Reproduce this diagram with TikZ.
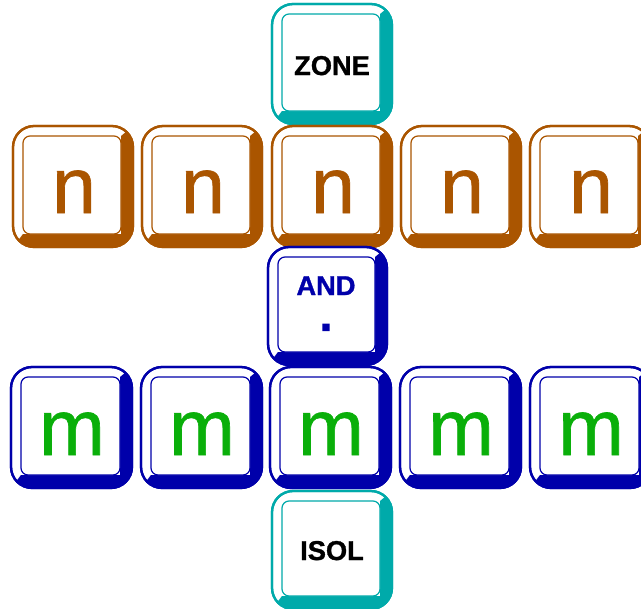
\documentclass[tikz,border=0pt]{standalone}
\usepackage{fontspec}
\setmainfont{Liberation Sans}
\newfontfamily\letterfont[FakeBold=0.8]{Liberation Sans}
\newfontfamily\labelfont[FakeBold=1.2]{Liberation Sans Bold}
\newfontfamily\dotfont[FakeBold=6]{Liberation Sans Bold}
\definecolor{keyteal}{RGB}{0,170,170}
\definecolor{keybrown}{RGB}{170,85,0}
\definecolor{keyblue}{RGB}{0,0,170}
\definecolor{keygreen}{RGB}{10,175,10}
\tikzset{
  keyshell/.style={line width=1.3pt, rounded corners=12},
  keyface/.style={line width=0.7pt, rounded corners=4, fill=white},
  bigletter/.style={anchor=base, inner sep=0pt, font=\fontsize{45}{45}\letterfont},
  keylabel/.style={anchor=base, inner sep=0pt, font=\fontsize{15.5}{15.5}\labelfont},
}
% key cap: x, y (top left), width, height, colour
\newcommand{\keycap}[5]{%
  \filldraw[keyshell, draw=#5, fill=white] (#1,#2) rectangle ++(#3,#4);%
  \begin{scope}
    \clip[rounded corners=12] (#1,#2) rectangle ++(#3,#4);
    \fill[#5] ({#1+#3},#2) -- ({#1+#3-12},{#2+10}) -- ({#1+#3-12},{#2+#4-13})
      -- ({#1+10},{#2+#4-13}) -- (#1,{#2+#4}) -- ({#1+#3},{#2+#4}) -- cycle;%
  \end{scope}
  \draw[keyshell, draw=#5] (#1,#2) rectangle ++(#3,#4);%
  \draw[keyface, draw=#5] ({#1+10},{#2+10}) rectangle ({#1+#3-12},{#2+#4-13});%
}
\begin{document}
\begin{tikzpicture}[x=0.02cm, y=-0.02cm]
                \useasboundingbox (0,0) rectangle (641,608);
                \clip (0,0) rectangle (641,608);

                % Drawing key ZONE
                \keycap{272}{4}{120}{120}{keyteal}
                \node[keylabel] (zone) at (332,75) {ZONE};

                % Drawing row of keys n
                \keycap{13}{126}{120}{121}{keybrown}
                \node[bigletter, text=keybrown] (n1) at (74,213) {n};
                \keycap{142}{126}{120}{121}{keybrown}
                \node[bigletter, text=keybrown] (n2) at (203,213) {n};
                \keycap{272}{126}{120}{121}{keybrown}
                \node[bigletter, text=keybrown] (n3) at (333,213) {n};
                \keycap{401}{126}{120}{121}{keybrown}
                \node[bigletter, text=keybrown] (n4) at (462,213) {n};
                \keycap{530}{126}{120}{121}{keybrown}
                \node[bigletter, text=keybrown] (n5) at (591,213) {n};

                % Drawing key AND with its dot
                \keycap{268}{247}{119}{118}{keyblue}
                \node[keylabel, text=keyblue] (and) at (326,295) {AND};
                \node[keylabel, text=keyblue, font=\fontsize{20}{20}\dotfont] (dot) at (326,330) {.};

                % Drawing row of keys m
                \keycap{11}{367}{121}{121}{keyblue}
                \node[bigletter, text=keygreen] (m1) at (72,455) {m};
                \keycap{141}{367}{121}{121}{keyblue}
                \node[bigletter, text=keygreen] (m2) at (202,455) {m};
                \keycap{270}{367}{121}{121}{keyblue}
                \node[bigletter, text=keygreen] (m3) at (331,455) {m};
                \keycap{400}{367}{121}{121}{keyblue}
                \node[bigletter, text=keygreen] (m4) at (461,455) {m};
                \keycap{530}{367}{121}{121}{keyblue}
                \node[bigletter, text=keygreen] (m5) at (591,455) {m};

                % Drawing key ISOL
                \keycap{272}{491}{120}{118}{keyteal}
                \node[keylabel] (isol) at (332,560) {ISOL};
\end{tikzpicture}
\end{document}
